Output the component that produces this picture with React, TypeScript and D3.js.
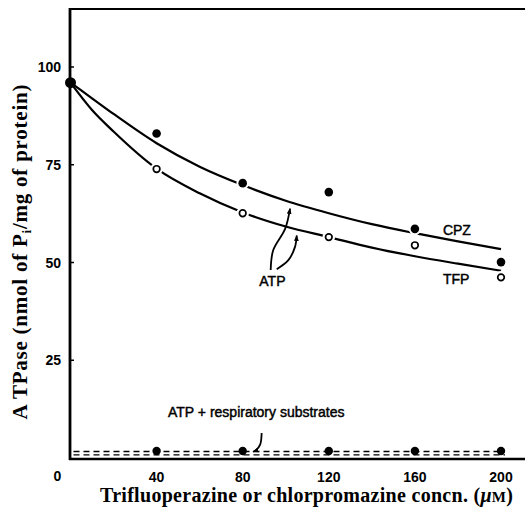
import React from "react";
import * as d3 from "d3";

const pointConc = [0, 40, 80, 120, 160, 200];
const cpzPoints = [96, 83, 70.3, 68, 58.6, 50.1];
const tfpPoints = [96, 73.9, 62.6, 56.5, 54.4, 46.2];

const curveConc = [0, 10, 20, 40, 60, 80, 100, 120, 140, 160, 180, 200];
const cpzCurve = [96, 92, 88, 80.5, 74.5, 69.8, 65.8, 62.6, 59.8, 57.5, 55.4, 53.4];
const tfpCurve = [96, 89, 83.5, 74, 67.7, 62.8, 59.2, 56.5, 53.8, 51.6, 49.7, 47.9];

const respConc = [40, 80, 120, 160, 200];
const respPoints = [1.8, 1.8, 1.8, 1.8, 1.8];
const respDashUpper = 1.65;
const respDashLower = 0.8;

const xTicks = [40, 80, 120, 160, 200];
const yTicks = [25, 50, 75, 100];

const arrowCpz: [number, number][] = [[93, 48.1], [94.2, 53.2], [99.7, 58.6], [102, 63.8]];
const arrowTfp: [number, number][] = [[95.8, 48.3], [101.2, 50.6], [104.3, 54.0], [105.1, 56.9]];
const arrowResp: [number, number][] = [[88.8, 6.4], [88.1, 3.4], [86.2, 2.0], [84.8, 1.6]];

export default function App() {
  const W = 525, H = 509;
  const x = d3.scaleLinear().domain([0, 200]).range([70.5, 501]);
  const y = d3.scaleLinear().domain([0, 100]).range([458, 67]);
  const line = d3
    .line<[number, number]>()
    .x((d) => x(d[0]))
    .y((d) => y(d[1]))
    .curve(d3.curveMonotoneX);
  const arrowLine = d3
    .line<[number, number]>()
    .x((d) => x(d[0]))
    .y((d) => y(d[1]))
    .curve(d3.curveCatmullRom);
  const cpzData = curveConc.map((c, i) => [c, cpzCurve[i]] as [number, number]);
  const tfpData = curveConc.map((c, i) => [c, tfpCurve[i]] as [number, number]);
  const sans = "'Liberation Sans', Arial, sans-serif";
  const serif = "'Liberation Serif', 'Times New Roman', serif";
  const left = x(0) - 0.5;
  const bottom = 459;
  const top = 9;
  const annot = { fontFamily: sans, fontSize: 14, stroke: "#000", strokeWidth: 0.45 };

  return (
    <svg width={W} height={H} style={{ position: "absolute", left: 0, top: 0, background: "#fff" }}>
      <defs>
        <marker id="ah" viewBox="0 0 10 10" refX="9" refY="5" markerWidth="6" markerHeight="6" orient="auto" markerUnits="userSpaceOnUse">
          <path d="M0,1 L10,5 L0,9 Z" fill="#000" />
        </marker>
      </defs>
      <rect x={0} y={0} width={W} height={H} fill="#fff" />
      {/* frame */}
      <line x1={left - 1} x2={W} y1={top} y2={top} stroke="#000" strokeWidth={2} />
      <line x1={left} x2={left} y1={top - 1} y2={bottom + 1} stroke="#000" strokeWidth={2.8} />
      <line x1={left - 1} x2={W} y1={bottom} y2={bottom} stroke="#000" strokeWidth={2.6} />
      {/* y ticks */}
      {yTicks.map((t) => (
        <g key={t}>
          <line x1={left} x2={left + 4} y1={y(t)} y2={y(t)} stroke="#000" strokeWidth={1.5} />
          <text x={61} y={y(t) + 5} textAnchor="end" fontFamily={sans} fontSize={14} fontWeight="bold">
            {t}
          </text>
        </g>
      ))}
      <text x={57.5} y={481} textAnchor="middle" fontFamily={sans} fontSize={14} fontWeight="bold">0</text>
      {xTicks.map((t) => (
        <text key={t} x={x(t)} y={482} textAnchor="middle" fontFamily={sans} fontSize={14} fontWeight="bold">
          {t}
        </text>
      ))}
      {/* titles */}
      <text x={100} y={502} fontFamily={serif} fontSize={20} fontWeight="bold" textLength={413} lengthAdjust="spacing">
        Trifluoperazine or chlorpromazine concn. (<tspan fontStyle="italic">μ</tspan>
        <tspan fontSize={15}>M</tspan>)
      </text>
      <text
        transform="translate(27,252) rotate(-90)"
        textAnchor="middle"
        fontFamily={serif}
        fontSize={21}
        fontWeight="bold"
        textLength={335}
        lengthAdjust="spacing"
      >
        A TPase (nmol of P<tspan fontSize={13} dy={4}>i</tspan>
        <tspan dy={-4}>/mg of protein)</tspan>
      </text>
      {/* curves */}
      <path d={line(cpzData) || ""} fill="none" stroke="#000" strokeWidth={2.2} />
      <path d={line(tfpData) || ""} fill="none" stroke="#000" strokeWidth={2.2} />
      {/* respiratory dashed lines */}
      <line x1={x(0) + 3} x2={x(200) + 4} y1={y(respDashUpper)} y2={y(respDashUpper)} stroke="#000" strokeWidth={1.4} strokeDasharray="6,4" />
      <line x1={x(0) + 3} x2={x(200) + 4} y1={y(respDashLower)} y2={y(respDashLower)} stroke="#000" strokeWidth={1.4} strokeDasharray="6,4" />
      {respConc.map((c, i) => (
        <circle key={"r" + c} cx={x(c)} cy={y(respPoints[i])} r={4.2} fill="#000" />
      ))}
      {/* points */}
      {pointConc.map((c, i) =>
        i === 0 ? null : (
          <circle key={"t" + c} cx={x(c)} cy={y(tfpPoints[i])} r={3.3} fill="#fff" stroke="#fff" strokeWidth={6} />
        )
      )}
      {pointConc.map((c, i) =>
        i === 0 ? null : (
          <circle key={"c" + c} cx={x(c)} cy={y(cpzPoints[i])} r={4.3} fill="#fff" stroke="#fff" strokeWidth={4} />
        )
      )}
      {pointConc.map((c, i) =>
        i === 0 ? null : (
          <circle key={"to" + c} cx={x(c)} cy={y(tfpPoints[i])} r={3.3} fill="#fff" stroke="#000" strokeWidth={1.7} />
        )
      )}
      {pointConc.map((c, i) => (
        <circle key={"cf" + c} cx={x(c)} cy={y(cpzPoints[i])} r={i === 0 ? 5.5 : 4.3} fill="#000" />
      ))}
      {/* annotations */}
      <text x={x(173)} y={y(57)} {...annot}>CPZ</text>
      <text x={x(173)} y={y(44.5)} {...annot}>TFP</text>
      <text x={x(93.8)} y={y(44)} textAnchor="middle" {...annot}>ATP</text>
      <text x={x(45.3)} y={y(10.5)} {...annot}>ATP + respiratory substrates</text>
      <path d={arrowLine(arrowCpz) || ""} fill="none" stroke="#000" strokeWidth={1.8} markerEnd="url(#ah)" />
      <path d={arrowLine(arrowTfp) || ""} fill="none" stroke="#000" strokeWidth={1.8} markerEnd="url(#ah)" />
      <path d={arrowLine(arrowResp) || ""} fill="none" stroke="#000" strokeWidth={1.8} markerEnd="url(#ah)" />
    </svg>
  );
}
